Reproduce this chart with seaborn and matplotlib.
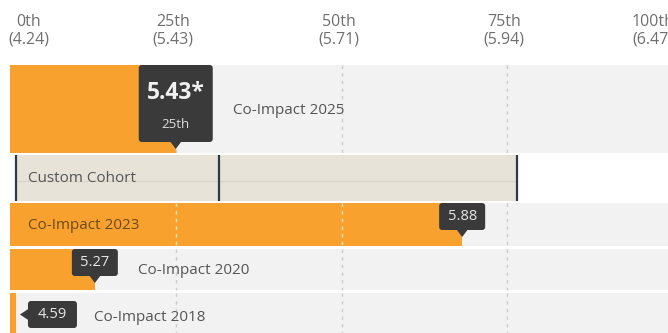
import numpy as np
import pandas as pd
import matplotlib.pyplot as plt
import seaborn as sns
from matplotlib.patches import FancyBboxPatch, Polygon

# Benchmark scale: percentile ranks and the score at each one
percentiles = [0, 25, 50, 75, 100]
percentile_scores = ["4.24", "5.43", "5.71", "5.94", "6.47"]

# Survey rounds: score, percentile rank and the tag shown on the bar
series = ["Co-Impact 2025", "Co-Impact 2023", "Co-Impact 2020", "Co-Impact 2018"]
series_pct = [25.0, 68.2, 12.8, 0.9]
series_tags = ["5.43*", "5.88", "5.27", "4.59"]
series_sub = ["25th", "", "", ""]

# Comparison cohort: low, middle and high percentile marks
cohort_name = "Custom Cohort"
cohort_pct = [0.9, 31.5, 76.5]

ORANGE = "#f9a12e"
TRACK = "#f2f2f2"
BEIGE = "#e7e3d9"
TAG = "#3a3a3a"
NAVY = "#2e3a4a"

sns.set_theme(style="white")
plt.rcParams["font.family"] = ["Open Sans", "DejaVu Sans"]

W, H = 668, 333
fig = plt.figure(figsize=(W / 100, H / 100), dpi=100)
PX = 6.63  # pixels per percentile point
ax = fig.add_axes([10 / W, 0, 100 * PX / W, 1])

# row bands in pixel units (y axis runs top-down in pixels)
rows = ["Co-Impact 2025", cohort_name, "Co-Impact 2023", "Co-Impact 2020", "Co-Impact 2018"]
row_top = dict(zip(rows, [65, 155, 203, 249, 293]))
row_bot = dict(zip(rows, [153, 201, 246, 290, 340]))
row_mid = {r: (row_top[r] + row_bot[r]) / 2 for r in rows}

# grey tracks behind each survey round
for name in series:
    ax.barh(row_mid[name], 100, height=row_bot[name] - row_top[name], left=0,
            color=TRACK, zorder=0, linewidth=0)

# survey bars
df = pd.DataFrame({"series": series, "percentile": series_pct,
                   "row": [row_mid[s] for s in series]})
before = len(ax.patches)
sns.barplot(data=df, x="percentile", y="row", orient="h", native_scale=True,
            color=ORANGE, saturation=1, errorbar=None, ax=ax, zorder=2, linewidth=0)
for p in ax.patches[before:]:
    c = p.get_y() + p.get_height() / 2
    name = min(series, key=lambda s: abs(row_mid[s] - c))
    p.set_y(row_top[name])
    p.set_height(row_bot[name] - row_top[name])

# dashed percentile guides within each survey row
for name, pct in zip(series, series_pct):
    for q in percentiles[1:-1]:
        col = "#fde2b6" if q < pct - 0.5 else "#cdcdcd"
        ax.vlines(q, row_top[name], row_bot[name], colors=col, lw=1.0,
                  linestyles=(0, (2.5, 3)), zorder=3)

# cohort band with low / mid / high markers
lo, mid, hi = cohort_pct
ax.barh(row_mid[cohort_name], hi - lo, height=row_bot[cohort_name] - row_top[cohort_name],
        left=lo, color=BEIGE, zorder=1, linewidth=0)
ax.hlines(181, lo, hi, colors="#d9d5ca", lw=1, zorder=1.5)
ax.vlines(cohort_pct, row_top[cohort_name], row_bot[cohort_name], colors=NAVY, lw=1.6, zorder=3)
ax.text(lo + 12 / PX, row_mid[cohort_name] + 1, cohort_name, ha="left", va="center",
        fontsize=11, color="#555555", zorder=5)


def tag(x, top, w, h, pointer):
    """Dark value tag anchored on a bar end."""
    if pointer == "down":
        left = x - w / 2 / PX
        box = FancyBboxPatch((left, top), w / PX, h, boxstyle="round,pad=0,rounding_size=0.45",
                             mutation_aspect=PX, fc=TAG, ec="none", zorder=6)
        tri = Polygon([(x - 6 / PX, top + h - 1), (x + 6 / PX, top + h - 1), (x, top + h + 7)],
                      closed=True, fc=TAG, ec="none", zorder=6)
        cx = x
    else:
        left = x + 12 / PX
        box = FancyBboxPatch((left, top), w / PX, h, boxstyle="round,pad=0,rounding_size=0.45",
                             mutation_aspect=PX, fc=TAG, ec="none", zorder=6)
        my = top + h / 2
        tri = Polygon([(left + 1 / PX, my - 6), (left + 1 / PX, my + 6), (x + 4 / PX, my)],
                      closed=True, fc=TAG, ec="none", zorder=6)
        cx = left + w / 2 / PX
    ax.add_patch(box)
    ax.add_patch(tri)
    return cx


label_gap = {"Co-Impact 2025": 20, "Co-Impact 2023": 0, "Co-Impact 2020": 20, "Co-Impact 2018": 17}

for name, pct, t, sub in zip(series, series_pct, series_tags, series_sub):
    top = row_top[name]
    if sub:
        cx = tag(pct, top, 74, 77, "down")
        ax.text(cx, top + 28, t, ha="center", va="center", fontsize=16.5,
                fontweight="bold", color="#f0f0f0", zorder=7)
        ax.text(cx, top + 60, sub, ha="center", va="center", fontsize=9.5,
                color="#dddddd", zorder=7)
        right_px = 37
    elif pct < 3:
        cx = tag(pct, top + 8, 49, 27, "left")
        ax.text(cx, top + 21.5, t, ha="center", va="center", fontsize=10.5,
                color="#e6e6e6", zorder=7)
        right_px = 12 + 49
    else:
        cx = tag(pct, top, 46, 27, "down")
        ax.text(cx, top + 13.5, t, ha="center", va="center", fontsize=10.5,
                color="#e6e6e6", zorder=7)
        right_px = 23

    if name == "Co-Impact 2023":
        ax.text(18 / PX, row_mid[name] + 1, name, ha="left", va="center", fontsize=11,
                color="#6b4a1c", zorder=5)
    else:
        lx = pct + (right_px + label_gap[name]) / PX
        ax.text(lx, row_mid[name] + 1, name, ha="left", va="center", fontsize=11,
                color="#555555", zorder=5)

# percentile header labels
for q, s in zip(percentiles, percentile_scores):
    txt = f"{q}th\n({s})"
    if q == 0:
        ax.text(q - 2 / PX, 31, txt, ha="left", va="center", ma="center", fontsize=11.5,
                color="#707070", linespacing=1.15)
    elif q == 100:
        ax.text(q + 1 / PX, 31, txt, ha="right", va="center", ma="center", fontsize=11.5,
                color="#707070", linespacing=1.15)
    else:
        ax.text(q - 3 / PX, 31, txt, ha="center", va="center", ma="center", fontsize=11.5,
                color="#707070", linespacing=1.15)

ax.set_xlim(0, 100)
ax.set_ylim(H, 0)
ax.axis("off")

fig.savefig("out.png", dpi=100)
